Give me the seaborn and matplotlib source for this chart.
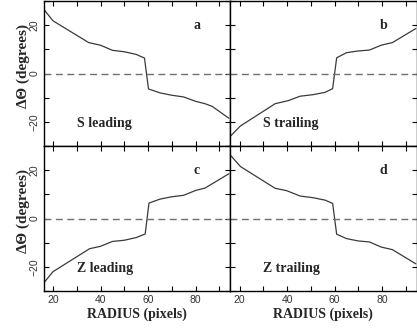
import matplotlib
matplotlib.use("Agg")
import matplotlib.pyplot as plt
from matplotlib.ticker import MultipleLocator
import seaborn as sns
import pandas as pd

sns.set_style("ticks")
plt.rcParams["font.family"] = ["Liberation Sans", "DejaVu Sans"]

# Angular offset vs radius for the four arm/spin configurations
radius_a = [16, 20, 35, 40, 45, 50, 55, 58.5, 60.2, 65, 70, 75, 80, 84, 87, 94]
theta_a = [26.7, 21.8, 12.8, 11.7, 9.6, 9.0, 7.9, 6.4, -6.4, -8.0, -9.0, -9.7, -11.5, -12.5, -13.6, -18.5]

radius_b = [16, 20.4, 35, 40.6, 45.5, 51, 56, 59.2, 60.9, 65, 69.8, 74.7, 79.6, 84.4, 94.2]
theta_b = [-26.1, -21.7, -12.5, -11.2, -9.4, -8.75, -7.8, -6.25, 6.5, 8.6, 9.3, 9.7, 11.7, 12.8, 18.6]

radius_c = [16, 20, 35.4, 40, 45, 50, 55, 58.8, 60.4, 65, 70, 75, 80, 84, 94]
theta_c = [-26.8, -22.0, -12.5, -11.5, -9.5, -9.0, -7.9, -6.4, 6.4, 8.0, 9.0, 9.6, 11.6, 12.6, 18.5]

radius_d = [16, 20.4, 35, 39.9, 45.5, 51, 56, 59.2, 60.9, 65, 70, 74.7, 79.6, 84.4, 94.2]
theta_d = [26.4, 21.5, 12.5, 11.5, 9.3, 8.6, 7.6, 6.25, -6.5, -8.3, -9.3, -9.7, -11.8, -12.9, -18.75]

panel_letters = ["a", "b", "c", "d"]
panel_titles = ["S leading", "S trailing", "Z leading", "Z trailing"]

series = [(radius_a, theta_a), (radius_b, theta_b), (radius_c, theta_c), (radius_d, theta_d)]

fig = plt.figure(figsize=(4.17, 3.29), dpi=100)

left, mid, right = 43.5 / 417, 230 / 417, 416.5 / 417
top, hmid, bottom = 1 - 1 / 329, 1 - 146 / 329, 1 - 291 / 329
boxes = [
    (left, hmid, mid - left, top - hmid),
    (mid, hmid, right - mid, top - hmid),
    (left, bottom, mid - left, hmid - bottom),
    (mid, bottom, right - mid, hmid - bottom),
]

serif = ["Liberation Serif", "DejaVu Serif"]

for i, (box, (rx, ty)) in enumerate(zip(boxes, series)):
    ax = fig.add_axes(box)
    df = pd.DataFrame({"radius": rx, "dtheta": ty})
    sns.lineplot(data=df, x="radius", y="dtheta", ax=ax, color="#3a3a3a", linewidth=0.9)
    ax.axhline(0, color="#707070", linewidth=1.0, linestyle=(0, (5, 3.2)))
    ax.set_xlim(16, 94.5)
    ax.set_ylim(-30, 30)
    ax.xaxis.set_major_locator(MultipleLocator(20))
    ax.xaxis.set_minor_locator(MultipleLocator(10))
    ax.yaxis.set_major_locator(MultipleLocator(20))
    ax.yaxis.set_minor_locator(MultipleLocator(10))
    ax.tick_params(which="both", direction="in", top=True, right=True,
                   length=3.5, width=0.8, color="black", labelsize=7.5,
                   labelcolor="#333333", pad=3)
    for sp in ax.spines.values():
        sp.set_linewidth(1.0)
        sp.set_color("black")
    for lab in ax.get_yticklabels():
        lab.set_rotation(90)
        lab.set_va("center")
    ax.text(80.5, 20, panel_letters[i], ha="center", va="center",
            fontsize=10, fontweight="bold", family=serif)
    ax.text(30, -20.5, panel_titles[i], ha="left", va="center",
            fontsize=10, fontweight="bold", family=serif)
    if i < 2:
        ax.tick_params(labelbottom=False)
        ax.set_xlabel("")
    else:
        ax.set_xlabel("RADIUS (pixels)", fontsize=10, fontweight="bold",
                      family=serif, labelpad=2)
    if i % 2 == 1:
        ax.tick_params(labelleft=False)
        ax.set_ylabel("")
    else:
        ax.set_ylabel("ΔΘ (degrees)", fontsize=11, fontweight="bold",
                      family=serif)
        ax.yaxis.set_label_coords(-0.075, 0.55)

fig.savefig("out.png", dpi=100)
